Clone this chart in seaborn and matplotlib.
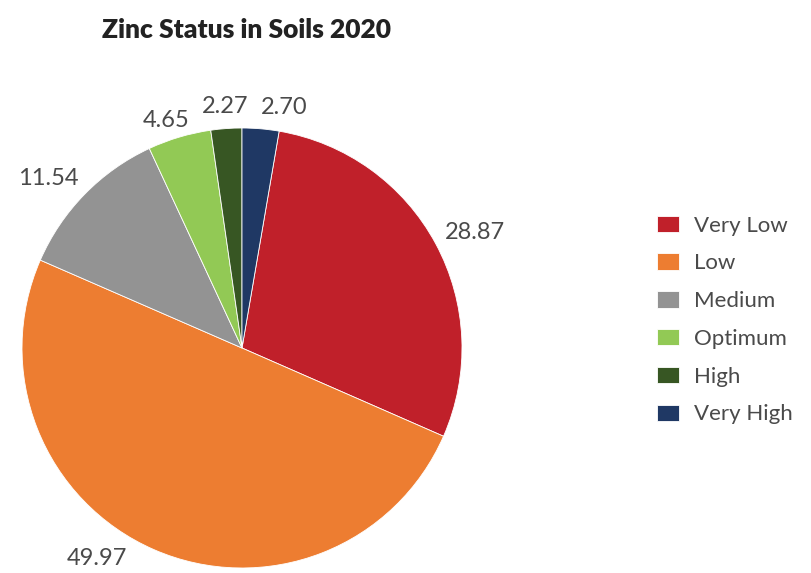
import numpy as np
import matplotlib
matplotlib.use("Agg")
import matplotlib.pyplot as plt
import seaborn as sns

# data
categories = ["Very Low", "Low", "Medium", "Optimum", "High", "Very High"]
shares = [28.87, 49.97, 11.54, 4.65, 2.27, 2.70]
value_labels = ["28.87", "49.97", "11.54", "4.65", "2.27", "2.70"]
slice_colors = ["#C0202A", "#ED7D31", "#939393", "#92C955", "#375623", "#1F3864"]

# label placement tweaks (Excel "best fit" style)
label_dist = [1.18, 1.16, 1.17, 1.09, 1.10, 1.11]
label_shift = [2, 11, -3, -2, 0, 5]  # degrees, clockwise

sns.set_theme(style="white")
plt.rcParams["font.family"] = ["Lato", "DejaVu Sans"]

fig = plt.figure(figsize=(8.11, 5.73), dpi=100)
ax = fig.add_axes([22 / 811, 5 / 573, 440 / 811, 440 / 573])

palette = sns.color_palette(slice_colors)
first_angle = shares[-1] / 100 * 360
wedges, _ = ax.pie(shares, colors=palette, startangle=90 - first_angle,
                   counterclock=False, radius=1,
                   wedgeprops=dict(edgecolor="white", linewidth=0.6))
ax.set_xlim(-1, 1)
ax.set_ylim(-1, 1)
ax.set_aspect("equal")

for w, txt, d, s in zip(wedges, value_labels, label_dist, label_shift):
    mid = np.deg2rad((w.theta1 + w.theta2) / 2 - s)
    ax.text(d * np.cos(mid), d * np.sin(mid), txt, ha="center", va="center",
            fontsize=17, color="#4a4a4a", clip_on=False)

fig.text(246 / 811, 1 - 30 / 573, "Zinc Status in Soils 2020", ha="center",
         va="center", fontsize=19, fontweight="heavy", color="#222222")

fig.legend(wedges, categories, loc="center left",
           bbox_to_anchor=(641 / 811, 1 - 320 / 573), frameon=False,
           handlelength=1.0, handleheight=0.75,
           labelspacing=0.8, handletextpad=0.7, borderpad=0.2,
           prop=dict(size=16), labelcolor="#4a4a4a")

fig.savefig("out.png", dpi=100)
